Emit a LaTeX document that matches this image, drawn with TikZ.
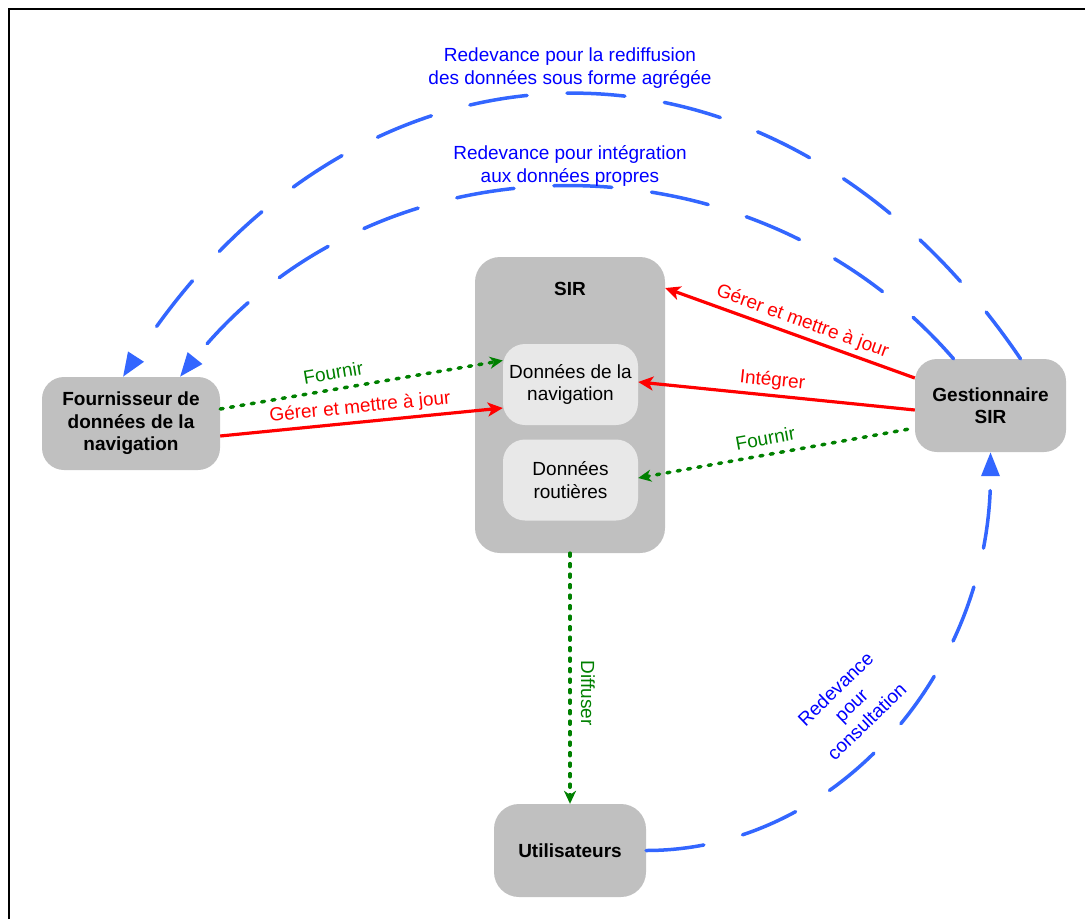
\documentclass[tikz,border=0pt]{standalone}
\usepackage{fontspec}
\setmainfont{Liberation Sans}
\usetikzlibrary{arrows.meta}
\definecolor{boxgray}{RGB}{192,192,192}
\definecolor{innergray}{RGB}{232,232,232}
\definecolor{linkblue}{RGB}{51,102,255}
\definecolor{textblue}{RGB}{0,0,255}
\definecolor{flowgreen}{RGB}{0,128,0}
\definecolor{flowred}{RGB}{255,0,0}

\tikzset{
  redtip/.tip={Stealth[length=15pt,width=14pt,inset=4pt]},
  greentip/.tip={Stealth[length=13pt,width=12pt,inset=4pt]},
  bluetip/.tip={Triangle[length=24pt,width=18pt]},
}

\begin{document}
\begin{tikzpicture}[x=1pt,y=-1pt,
  every node/.style={font=\fontsize{19pt}{22.5pt}\selectfont, inner sep=0pt},
  actor/.style={fill=boxgray, rounded corners=22pt, align=center,
    font=\fontsize{19pt}{22.5pt}\selectfont\bfseries},
  store/.style={fill=innergray, rounded corners=22pt, align=center,
    minimum width=135pt, minimum height=81pt},
  redflow/.style={draw=flowred, line width=3.2pt},
  greenflow/.style={draw=flowgreen, line width=3.5pt, line cap=round,
    dash pattern=on 3pt off 7.5pt},
  bluearc/.style={draw=linkblue, line width=3.5pt, line cap=round,
    dash pattern=on 58pt off 40pt},
  redlabel/.style={text=flowred},
  greenlabel/.style={text=flowgreen},
  bluelabel/.style={text=textblue, align=center},
]
\useasboundingbox (0,0) rectangle (1085,919);

% outer frame
\draw[line width=2.5pt, line join=miter] (9,919) -- (9,9) -- (1085,9);

% actors
\node[actor, minimum width=178pt, minimum height=93pt] (F) at (131,423.5)
  {Fournisseur de\\données de la\\navigation};
\node[actor, minimum width=151pt, minimum height=93pt] (G) at (990.5,405.5)
  {Gestionnaire\\SIR};
\node[actor, minimum width=152pt, minimum height=93pt, rounded corners=25pt] (U) at (570,850.5)
  {Utilisateurs};

% SIR container and its data stores
\node[actor, minimum width=190pt, minimum height=296pt, rounded corners=25pt] (SIR) at (570,405) {};
\node[font=\fontsize{19pt}{22.5pt}\selectfont\bfseries] (SIRt) at (570,289) {SIR};
\node[store] (DN) at (570.5,384.5) {Données de la\\navigation};
\node[store] (DR) at (570.5,480) {Données\\routières};

% fee flows (dashed blue arcs)
\draw[bluearc, -bluetip] ([xshift=30pt]G.north) .. controls +(-240,-354) and +(240,-372) .. ([xshift=-8pt]F.north);
\draw[bluearc, -bluetip] ([xshift=-37pt]G.north) .. controls +(-200,-231) and +(200,-249) .. ([xshift=49pt]F.north);
\draw[bluearc, -bluetip] (U.east) .. controls +(190,0) and +(0,220) .. (G.south);

\node[bluelabel] (lredif) at (570,68) {Redevance pour la rediffusion\\des données sous forme agrégée};
\node[bluelabel] (linteg) at (570,166) {Redevance pour intégration\\aux données propres};
\node[bluelabel, rotate=44] (lconsult) at (851,705) {Redevance\\pour\\consultation};

% provider flows
\draw[greenflow, -greentip] ([yshift=14.5pt]F.east) -- ([yshift=24pt]DN.west)
  node[greenlabel, pos=0.41, above=8pt, sloped] (lf1) {Fournir};
\draw[redflow, -redtip] ([yshift=-12.5pt]F.east) -- ([yshift=-23.5pt]DN.west)
  node[redlabel, pos=0.5, above=4pt, sloped] (lg1) {Gérer et mettre à jour};

% manager flows
\draw[redflow, redtip-] ([yshift=117pt]SIR.east) -- ([yshift=27.5pt]G.west)
  node[redlabel, pos=0.53, above=4pt, sloped] (lg2) {Gérer et mettre à jour};
\draw[redflow, redtip-] ([yshift=2.5pt]DN.east) -- ([yshift=-4.5pt]G.west)
  node[redlabel, pos=0.48, above=4pt, sloped] (lint) {Intégrer};
\draw[greenflow, greentip-] ([yshift=2pt]DR.east) -- ([yshift=-22.5pt]G.west)
  node[greenlabel, pos=0.47, above=8pt, sloped] (lf2) {Fournir};

% distribution to users
\draw[greenflow, -greentip] (SIR.south) -- (U.north);
\node[greenlabel, rotate=-90] (ldiff) at (588,693) {Diffuser};
\end{tikzpicture}
\end{document}
